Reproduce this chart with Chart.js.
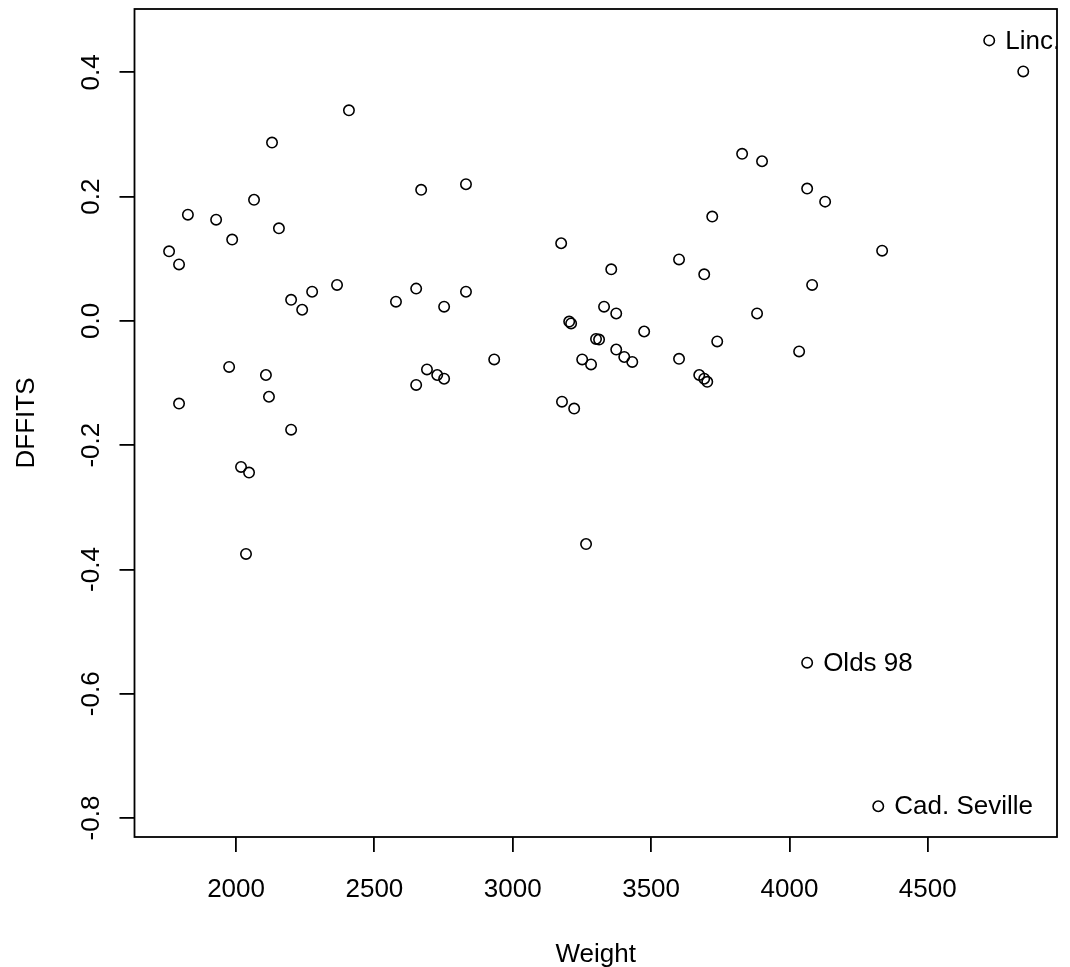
<!DOCTYPE html>
<html>
<head>
<meta charset="utf-8">
<script src="https://cdn.jsdelivr.net/npm/chart.js@4.4.0/dist/chart.umd.min.js"></script>
<style>
  html, body { margin: 0; padding: 0; background: #fff; }
</style>
</head>
<body>
<canvas id="c" width="1070" height="967"></canvas>
<script>
// DFFITS against car weight
const weight = [
  1758, 1794, 1826, 1794, 1928, 1986, 1975, 2065, 2130, 2155,
  2108, 2119, 2199, 2239, 2275, 2199, 2018, 2047, 2036, 2365,
  2408, 2578, 2651, 2669, 2651, 2690, 2727, 2752, 2752, 2831,
  2831, 2933, 3175, 3178, 3204, 3211, 3222, 3251, 3283, 3301,
  3312, 3330, 3356, 3374, 3374, 3403, 3432, 3475, 3265, 3601,
  3601, 3674, 3692, 3692, 3703, 3721, 3739, 3829, 3901, 3883,
  4035, 4064, 4082, 4129, 4335, 4064, 4321, 4722, 4845
];
const dffits = [
  0.112, 0.091, 0.171, -0.133, 0.163, 0.131, -0.074, 0.195, 0.287, 0.149,
  -0.087, -0.122, 0.034, 0.018, 0.047, -0.175, -0.235, -0.244, -0.375, 0.058,
  0.339, 0.031, 0.052, 0.211, -0.103, -0.078, -0.087, -0.093, 0.023, 0.220,
  0.047, -0.062, 0.125, -0.130, -0.001, -0.004, -0.141, -0.062, -0.070, -0.029,
  -0.030, 0.023, 0.083, 0.012, -0.046, -0.058, -0.066, -0.017, -0.359, 0.099,
  -0.061, -0.087, 0.075, -0.093, -0.098, 0.168, -0.033, 0.269, 0.257, 0.012,
  -0.049, 0.213, 0.058, 0.192, 0.113, -0.550, -0.781, 0.4515, 0.4016
];
// labelled cars (index into the arrays above)
const labelIdx = [65, 66, 67];
const labelText = ['Olds 98', 'Cad. Seville', 'Linc.'];

const xTicks = [2000, 2500, 3000, 3500, 4000, 4500];
const yTicks = [-0.8, -0.6, -0.4, -0.2, 0, 0.2, 0.4];

const FONT = { family: '"Liberation Sans", Arial, sans-serif', size: 26 };

const framePlugin = {
  id: 'frame',
  afterDatasetsDraw(chart) {
    const { ctx, chartArea: a, scales: { x, y } } = chart;
    ctx.save();
    ctx.strokeStyle = '#000';
    ctx.lineWidth = 1.8;
    ctx.strokeRect(a.left, a.top, a.right - a.left, a.bottom - a.top);
    // point labels, clipped to the plot region like R's text()
    ctx.beginPath();
    ctx.rect(a.left, a.top, a.right - a.left, a.bottom - a.top);
    ctx.clip();
    ctx.font = FONT.size + 'px ' + FONT.family;
    ctx.fillStyle = '#000';
    ctx.textAlign = 'left';
    ctx.textBaseline = 'middle';
    labelIdx.forEach((i, k) => {
      ctx.fillText(labelText[k], x.getPixelForValue(weight[i]) + 16, y.getPixelForValue(dffits[i]) + 1);
    });
    ctx.restore();
  }
};

new Chart(document.getElementById('c'), {
  type: 'scatter',
  data: {
    datasets: [{
      data: weight.map((w, i) => ({ x: w, y: dffits[i] })),
      pointStyle: 'circle',
      pointRadius: 5.2,
      pointBorderWidth: 1.6,
      borderColor: '#000',
      backgroundColor: 'rgba(0,0,0,0)'
    }]
  },
  options: {
    responsive: false,
    animation: false,
    devicePixelRatio: 1,
    layout: { padding: { top: 9, right: 13, left: 0, bottom: 0 } },
    plugins: { legend: { display: false }, tooltip: { enabled: false } },
    scales: {
      x: {
        type: 'linear', min: 1633, max: 4967,
        afterBuildTicks: s => { s.ticks = xTicks.map(v => ({ value: v })); },
        afterFit: s => { s.height = 130; s.paddingLeft = 0; s.paddingRight = 0; },
        border: { display: false },
        grid: { drawOnChartArea: false, drawTicks: true, tickLength: 15, color: '#000', lineWidth: 1.8 },
        ticks: { font: FONT, color: '#000', padding: 22, maxRotation: 0, autoSkip: false, callback: v => String(v) },
        title: { display: true, text: 'Weight', font: FONT, color: '#000', padding: { top: 0, bottom: -3 } }
      },
      y: {
        type: 'linear', min: -0.8305, max: 0.502,
        afterBuildTicks: s => { s.ticks = yTicks.map(v => ({ value: v })); },
        afterFit: s => { s.width = 134.5; s.paddingTop = 0; s.paddingBottom = 0; },
        border: { display: false },
        grid: { drawOnChartArea: false, drawTicks: true, tickLength: 15, color: '#000', lineWidth: 1.8 },
        ticks: {
          font: FONT, color: '#000', padding: 5, minRotation: 90, maxRotation: 90,
          crossAlign: 'center', autoSkip: false,
          callback: v => v.toFixed(1)
        },
        title: { display: true, text: 'DFFITS', font: FONT, color: '#000', padding: { top: 11, bottom: 0 } }
      }
    }
  },
  plugins: [framePlugin]
});
</script>
</body>
</html>
